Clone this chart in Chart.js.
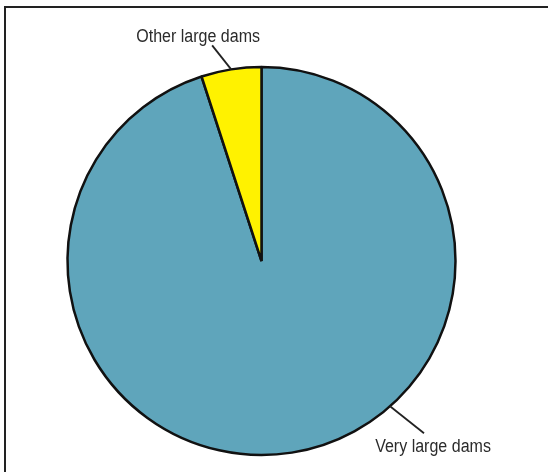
<!DOCTYPE html>
<html>
<head>
<meta charset="utf-8">
<script src="https://cdn.jsdelivr.net/npm/chart.js@4.4.0/dist/chart.umd.min.js"></script>
<style>
  html, body { margin: 0; padding: 0; background: #fff; }
  #dams-pie { display: block; }
</style>
</head>
<body>
<canvas id="dams-pie" width="548" height="472"></canvas>
<script>
// Share of dam categories
const damLabels = ["Very large dams", "Other large dams"];
const damShares = [95, 5];
const damColors = ["#5fa5bb", "#fff200"];

// where each callout leaves its slice (fraction along the arc) and how it runs
const calloutSpots = [
  { at: 0.405, line: [34, 27], text: [9, 19] },
  { at: 0.5, line: [-19, -24], text: [-14, -3] },
];

// frame lines along the top and left edge
const framePlugin = {
  id: "frame",
  beforeDraw(chart) {
    const ctx = chart.ctx;
    ctx.save();
    ctx.strokeStyle = "#222";
    ctx.lineWidth = 2;
    ctx.beginPath();
    ctx.moveTo(548, 7);
    ctx.lineTo(5, 7);
    ctx.lineTo(5, 472);
    ctx.stroke();
    ctx.restore();
  },
};

// leader lines + slice names (condensed look: squeeze the text horizontally)
const calloutPlugin = {
  id: "callouts",
  afterDatasetsDraw(chart) {
    const ctx = chart.ctx;
    const arcs = chart.getDatasetMeta(0).data;
    ctx.save();
    ctx.strokeStyle = "#222";
    ctx.fillStyle = "#2b2b2b";
    ctx.lineWidth = 1.8;
    ctx.font = '18px "Liberation Sans", Arial, sans-serif';
    ctx.textAlign = "center";
    ctx.textBaseline = "alphabetic";
    arcs.forEach((arc, i) => {
      const p = arc.getProps(["x", "y", "startAngle", "endAngle", "outerRadius"], true);
      const spot = calloutSpots[i];
      const a = p.startAngle + spot.at * (p.endAngle - p.startAngle);
      const x0 = p.x + Math.cos(a) * p.outerRadius;
      const y0 = p.y + Math.sin(a) * p.outerRadius;
      const x1 = x0 + spot.line[0];
      const y1 = y0 + spot.line[1];
      ctx.beginPath();
      ctx.moveTo(x0, y0);
      ctx.lineTo(x1, y1);
      ctx.stroke();
      ctx.save();
      ctx.translate(x1 + spot.text[0], y1 + spot.text[1]);
      ctx.scale(0.89, 1);
      ctx.fillText(damLabels[i], 0, 0);
      ctx.restore();
    });
    ctx.restore();
  },
};

new Chart(document.getElementById("dams-pie"), {
  type: "pie",
  data: {
    labels: damLabels,
    datasets: [
      {
        data: damShares,
        backgroundColor: damColors,
        borderColor: "#111",
        borderWidth: 2.5,
      },
    ],
  },
  options: {
    responsive: false,
    animation: false,
    radius: 194,
    layout: {
      padding: { left: 40, right: 65, top: 55, bottom: 5 },
    },
    plugins: {
      legend: { display: false },
      tooltip: { enabled: false },
      title: { display: false },
    },
  },
  plugins: [framePlugin, calloutPlugin],
});
</script>
</body>
</html>
